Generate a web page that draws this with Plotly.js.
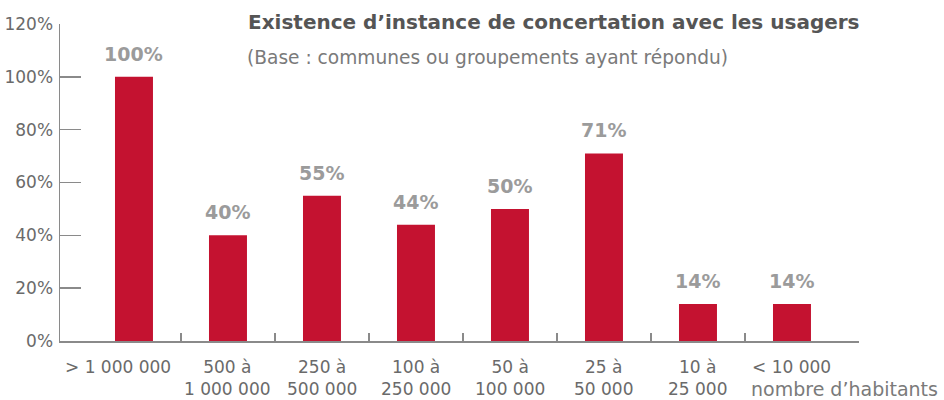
<!DOCTYPE html>
<html>
<head>
<meta charset="utf-8">
<script src="https://cdn.plot.ly/plotly-3.0.1.min.js"></script>
<style>html,body{margin:0;padding:0;background:#fff;}#chart{width:944px;height:400px;}</style>
</head>
<body>
<div id="chart"></div>
<script>
const categories = ["> 1 000 000", "500 à<br>1 000 000", "250 à<br>500 000", "100 à<br>250 000", "50 à<br>100 000", "25 à<br>50 000", "10 à<br>25 000", "< 10 000"];
const values = [100, 40, 55, 44, 50, 71, 14, 14];
const yTickVals = [0, 20, 40, 60, 80, 100, 120];
const yTickText = ["0%", "20%", "40%", "60%", "80%", "100%", "120%"];
const titleText = "Existence d’instance de concertation avec les usagers";
const subtitleText = "(Base : communes ou groupements ayant répondu)";
const unitText = "nombre d’habitants";

const FONT = "DejaVu Sans, Liberation Sans, sans-serif";
const idx = categories.map((c, i) => i);
const xMin = -0.787, xMax = 7.713;
const boundaryTicks = idx.slice(0, -1).map(i => i + 0.5).concat([xMax - 0.001]);

const annotations = [];
values.forEach((v, i) => {
  annotations.push({
    x: i, y: v, xref: 'x', yref: 'y', text: v + '%', showarrow: false,
    yanchor: 'bottom', yshift: 10,
    font: {family: FONT, size: 19, color: '#9b9b9b', weight: 'bold'}
  });
});
categories.forEach((c, i) => {
  annotations.push({
    x: i, y: 0, xref: 'x', yref: 'y', text: c, showarrow: false,
    yanchor: 'top', yshift: -14, xshift: i === 0 ? -16 : 0,
    font: {family: FONT, size: 17, color: '#6a6a6a'}
  });
});
annotations.push({
  x: (940 - 60) / 799, y: (341 - 389) / 317, xref: 'paper', yref: 'paper',
  text: unitText, showarrow: false, xanchor: 'right', yanchor: 'middle',
  font: {family: FONT, size: 19, color: '#7a7a7a'}
});
annotations.push({
  x: (245 - 60) / 799, y: (341 - 57) / 317, xref: 'paper', yref: 'paper',
  text: subtitleText, showarrow: false, xanchor: 'left', yanchor: 'middle',
  font: {family: FONT, size: 18.6, color: '#7a7a7a'}
});

const trace = {
  type: 'bar', x: idx, y: values, width: 0.404,
  marker: {color: '#c41230'}, hoverinfo: 'skip'
};

const layout = {
  width: 944, height: 400,
  margin: {l: 60, r: 85, t: 24, b: 59},
  paper_bgcolor: '#fff', plot_bgcolor: '#fff',
  showlegend: false,
  title: {
    text: titleText, xref: 'container', yref: 'container',
    x: 248 / 944, xanchor: 'left', y: 1 - 22 / 400, yanchor: 'middle',
    font: {family: FONT, size: 20, color: '#555555', weight: 'bold'}
  },
  xaxis: {
    range: [xMin, xMax], showgrid: false, zeroline: false,
    showline: true, linecolor: '#8a8a8a', linewidth: 1.5,
    tickmode: 'array', tickvals: boundaryTicks, ticks: 'inside', ticklen: 8,
    tickcolor: '#8a8a8a', tickwidth: 1.5, showticklabels: false, fixedrange: true
  },
  yaxis: {
    range: [0, 120], showgrid: false, zeroline: false,
    showline: true, linecolor: '#8a8a8a', linewidth: 1.5,
    tickmode: 'array', tickvals: yTickVals, ticktext: yTickText,
    ticks: 'inside', ticklen: 21, tickcolor: '#8a8a8a', tickwidth: 1.5,
    ticklabelstandoff: 2,
    tickfont: {family: FONT, size: 17, color: '#6a6a6a'}, fixedrange: true
  },
  annotations: annotations
};

Plotly.newPlot('chart', [trace], layout, {displayModeBar: false, staticPlot: true});
</script>
</body>
</html>
